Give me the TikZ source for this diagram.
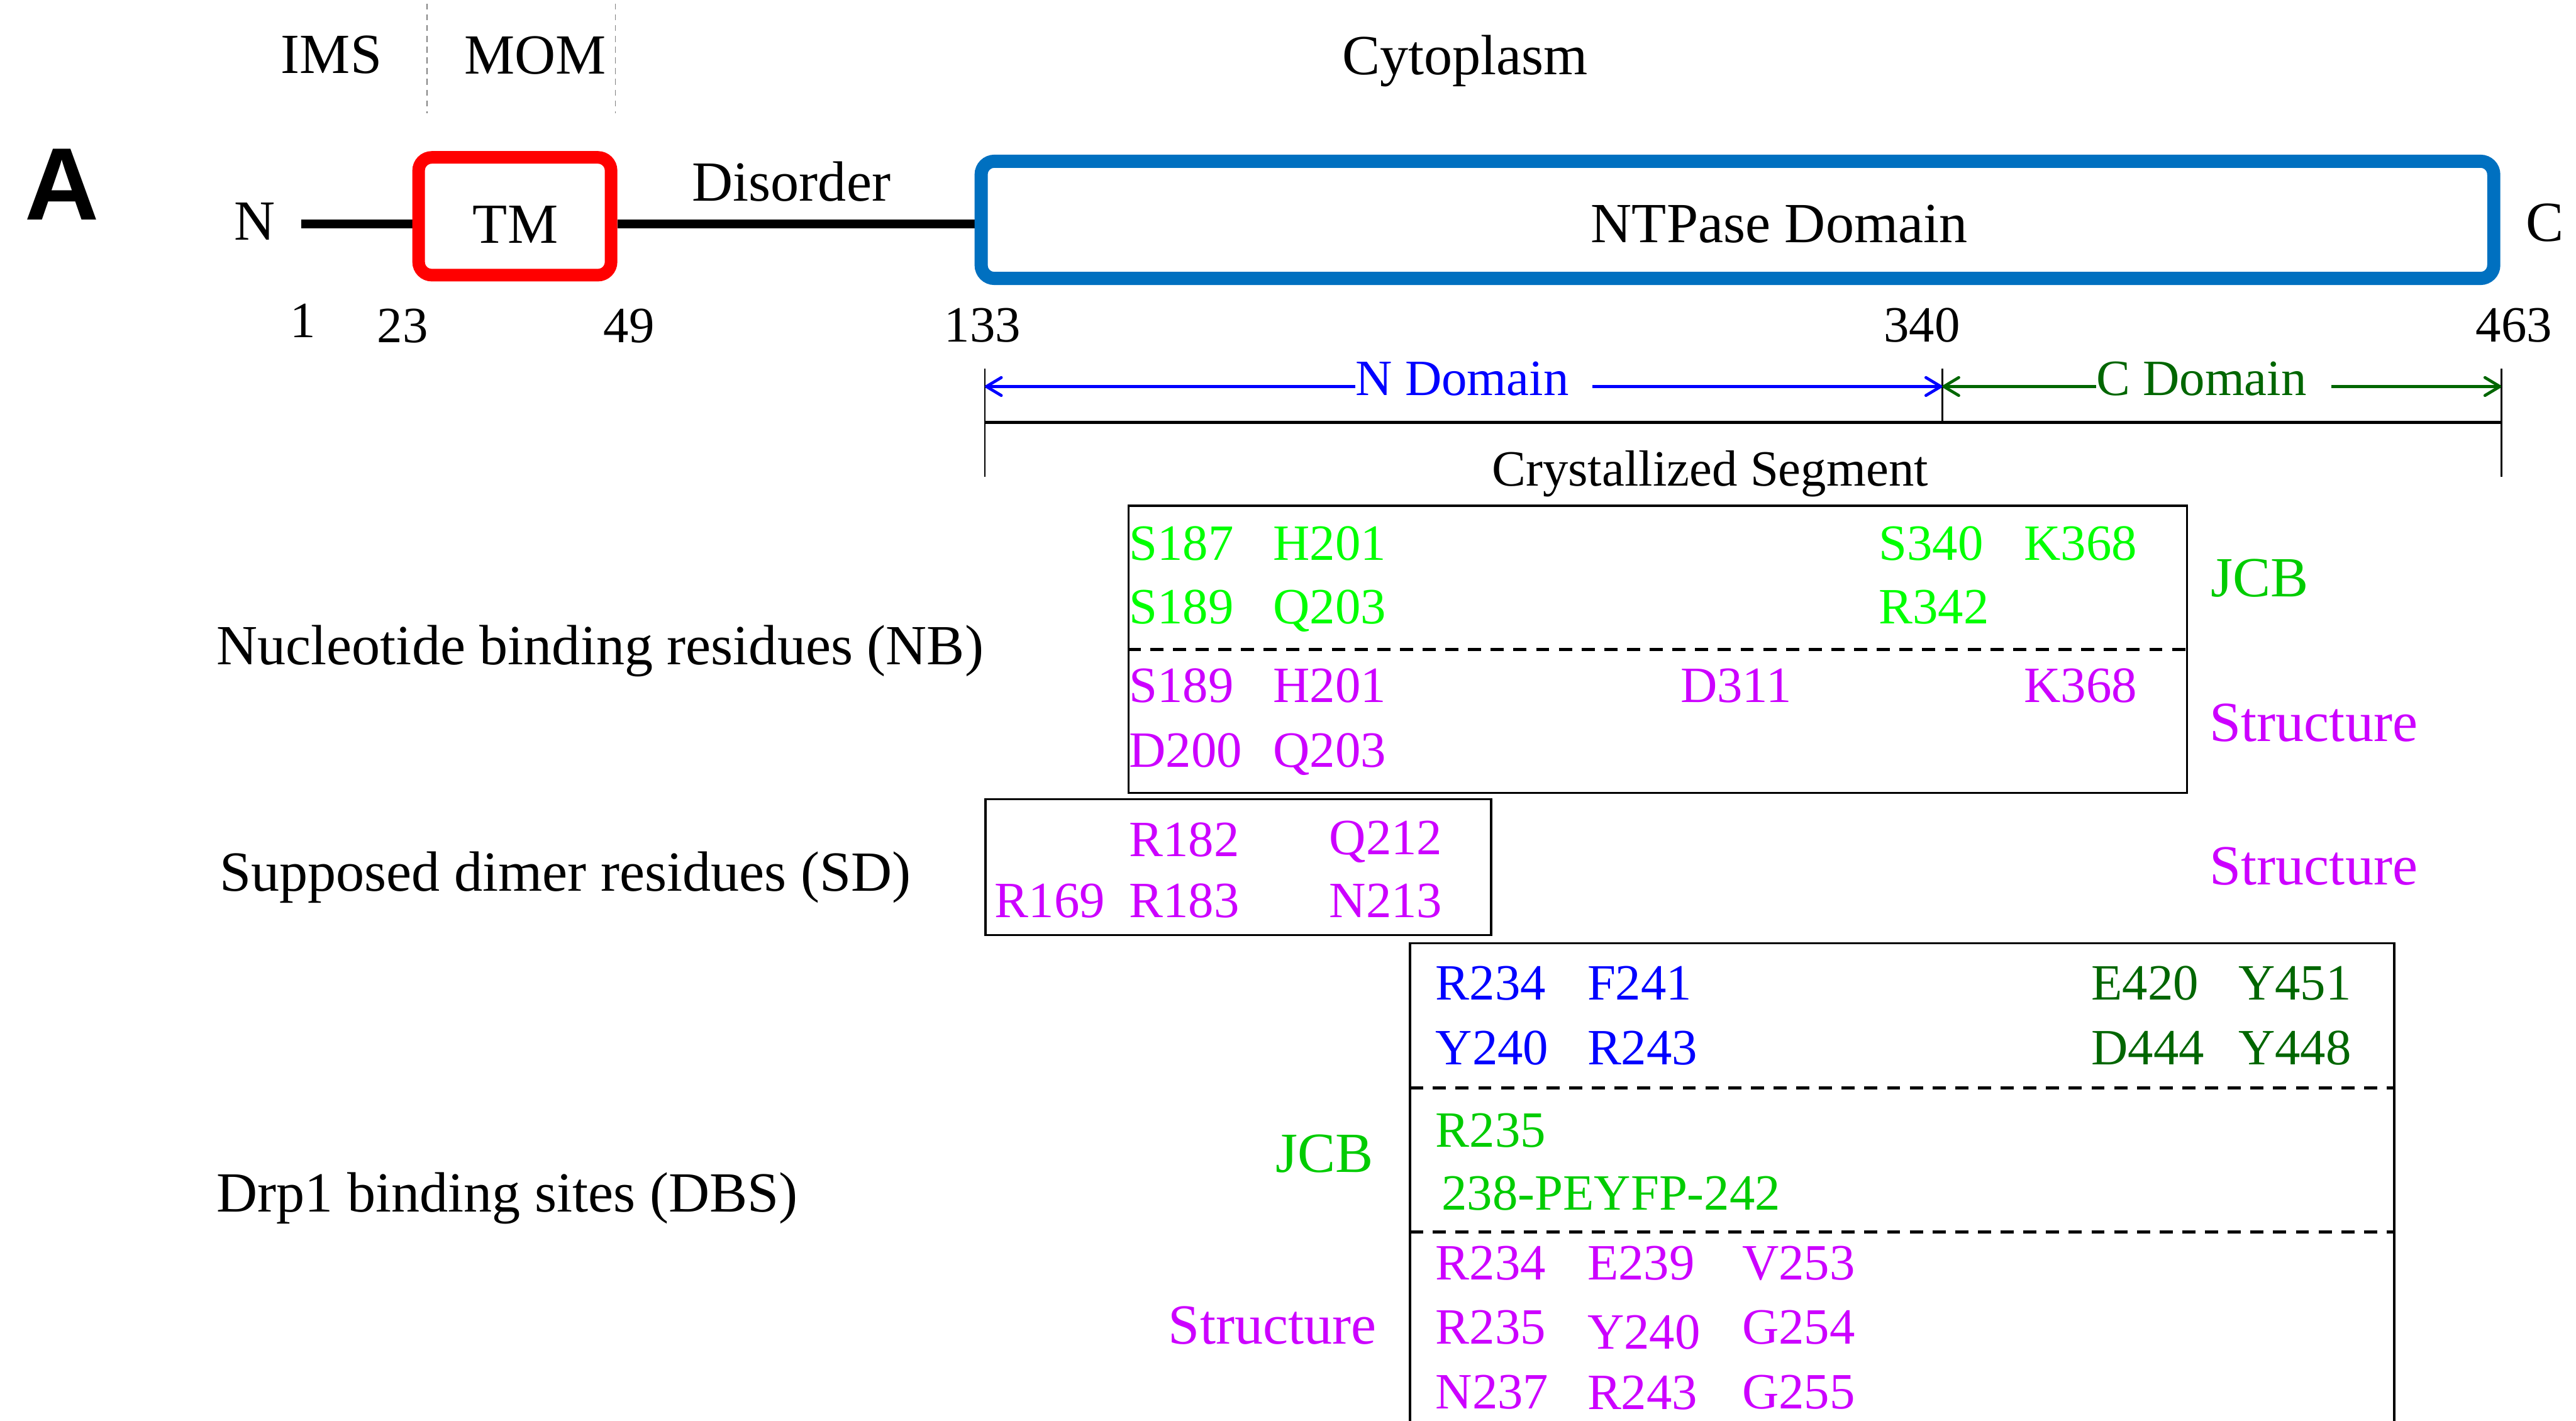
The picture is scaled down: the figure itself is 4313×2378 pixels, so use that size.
\documentclass[tikz,border=0pt]{standalone}
\usepackage{fontspec}
\setmainfont{Liberation Serif}
\newfontfamily\panelfont{Liberation Sans}
\usepackage{xcolor}
\usetikzlibrary{arrows.meta, backgrounds}

\definecolor{ntpblue}{RGB}{0,112,192}
\definecolor{ndblue}{RGB}{0,0,255}
\definecolor{cdgreen}{RGB}{0,102,0}
\definecolor{jcblime}{RGB}{0,255,0}
\definecolor{jcbgreen}{RGB}{0,204,0}
\definecolor{strmag}{RGB}{204,0,255}

\begin{document}
\begin{tikzpicture}[
  x=0.01cm, y=-0.01cm,
  big/.style={font=\fontsize{27}{32}\selectfont, inner sep=0pt},
  small/.style={font=\fontsize{24.2}{29}\selectfont, inner sep=0pt},
  res/.style={small, anchor=base west},
  domainbox/.style={draw, rounded corners=0.22cm, fill=white},
  resbox/.style={draw, line width=1.1pt, inner sep=0pt},
  sepline/.style={line width=1.4pt, dash pattern=on 0.22cm off 0.16cm},
  memline/.style={gray, line width=0.4pt, dash pattern=on 0.1cm off 0.08cm},
  dimtick/.style={line width=0.85pt},
  dimarrow/.style={line width=1.4pt, -{Straight Barb[length=0.25cm, width=0.3cm, round]}},
]
\useasboundingbox (0,0) rectangle (4313,2378);

% panel letter and compartments
\node[font=\panelfont\bfseries\fontsize{49}{55}\selectfont, inner sep=0pt, anchor=base] (panel) at (104,368) {A};
\node[big, anchor=base] (ims)  at (555,123)  {IMS};
\node[big, anchor=base] (mom)  at (896,124)  {MOM};
\node[big, anchor=base] (cyto) at (2453,125) {Cytoplasm};
\coordinate (memA) at (715,6);  \coordinate (memAend) at (715,189);
\coordinate (memB) at (1030,6); \coordinate (memBend) at (1030,189);
\draw[memline] (memA) -- (memAend);
\draw[memline] (memB) -- (memBend);

% domain topology
\node[big, anchor=base] (nterm) at (427,402) {N};
\coordinate (chainstart) at (504,375);
\node[domainbox, draw=red, line width=0.21cm, minimum width=3.22cm, minimum height=1.97cm] (tm) at (862,362) {};
\node[big, anchor=base] (tmtxt) at (863,407) {TM};
\node[domainbox, draw=ntpblue, line width=0.22cm, minimum width=25.31cm, minimum height=1.96cm] (ntp) at (2909,368) {};
\node[big, anchor=base] (ntptxt) at (2979,406) {NTPase Domain};
\node[big, anchor=base west] (cterm) at (4229,404) {C};
\node[big, anchor=base] (dis) at (1325,336) {Disorder};
\begin{scope}[on background layer]
  \draw[line width=0.14cm] (chainstart) -- (tm.west |- chainstart);
  \draw[line width=0.14cm] (tm.east |- chainstart) -- (ntp.west |- chainstart);
\end{scope}

% residue numbers
\node[small, anchor=base] (p1)   at (507,565)  {1};
\node[small, anchor=base] (p23)  at (674,573)  {23};
\node[small, anchor=base] (p49)  at (1053,573) {49};
\node[small, anchor=base] (p133) at (1645,572) {133};
\node[small, anchor=base] (p340) at (3218,572) {340};
\node[small, anchor=base] (p463) at (4209,572) {463};

% N / C domain ranges and crystallized segment
\coordinate (d133) at (1649,617); \coordinate (d133b) at (1649,798);
\coordinate (d340) at (3252,617); \coordinate (d340b) at (3252,707);
\coordinate (d463) at (4188,617); \coordinate (d463b) at (4188,798);
\draw[dimtick] (d133) -- (d133b);
\draw[dimtick] (d340) -- (d340b);
\draw[dimtick] (d463) -- (d463b);
\draw[line width=1.3pt] (d133 |- d340b) -- (d463 |- d340b);
\coordinate (a133) at (1649,647);
\coordinate (a340) at (3252,647);
\coordinate (a463) at (4188,647);
\node[small, text=ndblue, anchor=base west] (ndom) at (2269,662) {N Domain};
\node[small, text=cdgreen, anchor=base west] (cdom) at (3509,662) {C Domain};
\draw[dimarrow, ndblue] (ndom.west |- a133) -- (a133);
\draw[dimarrow, ndblue, shorten <=0.39cm] (ndom.east |- a340) -- (a340);
\draw[dimarrow, cdgreen] (cdom.west |- a340) -- (a340);
\draw[dimarrow, cdgreen, shorten <=0.41cm] (cdom.east |- a463) -- (a463);
\node[small, anchor=base] (cryst) at (2863,813) {Crystallized Segment};

% nucleotide binding residues
\node[big, anchor=base west] (nblbl) at (362,1112) {Nucleotide binding residues (NB)};
\node[resbox, minimum width=17.71cm, minimum height=4.80cm] (nbbox) at (2775.5,1087) {};
\draw[sepline] (nbbox.west) -- (nbbox.east);
\node[res, text=jcblime] (nbjS187) at (1890,938)  {S187};
\node[res, text=jcblime] (nbjH201) at (2131,938)  {H201};
\node[res, text=jcblime] (nbjS340) at (3145,938)  {S340};
\node[res, text=jcblime] (nbjK368) at (3388,938)  {K368};
\node[res, text=jcblime] (nbjS189) at (1890,1044) {S189};
\node[res, text=jcblime] (nbjQ203) at (2131,1044) {Q203};
\node[res, text=jcblime] (nbjR342) at (3145,1044) {R342};
\node[res, text=strmag] (nbsS189) at (1890,1176) {S189};
\node[res, text=strmag] (nbsH201) at (2131,1176) {H201};
\node[res, text=strmag] (nbsD311) at (2813,1176) {D311};
\node[res, text=strmag] (nbsK368) at (3388,1176) {K368};
\node[res, text=strmag] (nbsD200) at (1890,1284) {D200};
\node[res, text=strmag] (nbsQ203) at (2131,1284) {Q203};
\node[big, text=jcbgreen, anchor=base west] (nbjcb) at (3701,999)  {JCB};
\node[big, text=strmag, anchor=base west]   (nbstr) at (3699,1241) {Structure};

% supposed dimer residues
\node[big, anchor=base west] (sdlbl) at (367,1492) {Supposed dimer residues (SD)};
\node[resbox, minimum width=8.46cm, minimum height=2.27cm] (sdbox) at (2073,1451.5) {};
\node[res, text=strmag] (sdR182) at (1890,1434) {R182};
\node[res, text=strmag] (sdQ212) at (2225,1430) {Q212};
\node[res, text=strmag] (sdR169) at (1665,1536) {R169};
\node[res, text=strmag] (sdR183) at (1890,1536) {R183};
\node[res, text=strmag] (sdN213) at (2225,1536) {N213};
\node[big, text=strmag, anchor=base west] (sdstr) at (3699,1481) {Structure};

% Drp1 binding sites
\node[big, anchor=base west] (dbslbl) at (362,2029) {Drp1 binding sites (DBS)};
\node[resbox, minimum width=16.47cm, minimum height=8.51cm] (dbsbox) at (3184.5,2004.5) {};
\coordinate (dbsep1) at (2361,1821);
\coordinate (dbsep2) at (2361,2062);
\draw[sepline] (dbsep1) -- (dbsep1 -| dbsbox.east);
\draw[sepline] (dbsep2) -- (dbsep2 -| dbsbox.east);
\node[res, text=ndblue]  (dbR234) at (2403,1674) {R234};
\node[res, text=ndblue]  (dbF241) at (2657,1674) {F241};
\node[res, text=cdgreen] (dbE420) at (3501,1674) {E420};
\node[res, text=cdgreen] (dbY451) at (3747,1674) {Y451};
\node[res, text=ndblue]  (dbY240) at (2403,1782) {Y240};
\node[res, text=ndblue]  (dbR243) at (2657,1782) {R243};
\node[res, text=cdgreen] (dbD444) at (3501,1782) {D444};
\node[res, text=cdgreen] (dbY448) at (3747,1782) {Y448};
\node[res, text=jcbgreen] (dbjR235) at (2403,1920) {R235};
\node[res, text=jcbgreen] (dbjPEYFP) at (2413,2025) {238-PEYFP-242};
\node[res, text=strmag] (dbsR234) at (2403,2142) {R234};
\node[res, text=strmag] (dbsE239) at (2657,2142) {E239};
\node[res, text=strmag] (dbsV253) at (2916,2142) {V253};
\node[res, text=strmag] (dbsR235) at (2403,2250) {R235};
\node[res, text=strmag] (dbsY240) at (2657,2258) {Y240};
\node[res, text=strmag] (dbsG254) at (2916,2250) {G254};
\node[res, text=strmag] (dbsN237) at (2403,2358) {N237};
\node[res, text=strmag] (dbsR243) at (2657,2359) {R243};
\node[res, text=strmag] (dbsG255) at (2916,2358) {G255};
\node[big, text=jcbgreen, anchor=base east] (dbjcb) at (2300,1962) {JCB};
\node[big, text=strmag, anchor=base east]   (dbstr) at (2305,2250) {Structure};
\end{tikzpicture}
\end{document}
